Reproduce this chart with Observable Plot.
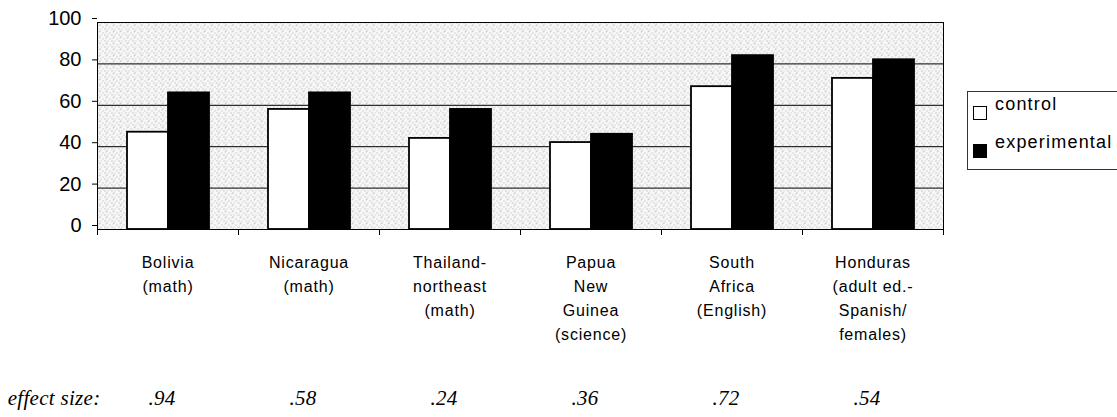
<!DOCTYPE html>
<html><head><meta charset="utf-8">
<script src="https://cdn.jsdelivr.net/npm/d3@7"></script>
<script src="https://cdn.jsdelivr.net/npm/@observablehq/plot@0.6"></script>
<style>
body{margin:0;background:#fff;}
#wrap{position:relative;width:1117px;height:417px;overflow:hidden;font-family:"Liberation Sans",Arial,sans-serif;}
#legend{position:absolute;left:967px;top:91px;width:170px;height:79px;border:1px solid #333;box-sizing:border-box;background:#fff;}
.sw{position:absolute;left:5px;width:14px;height:14px;border:1px solid #000;box-sizing:border-box;}
.lt{position:absolute;left:27px;font-size:18px;line-height:18px;letter-spacing:1.2px;color:#000;white-space:nowrap;}
g[aria-label="fx-axis tick label"] text{letter-spacing:0.8px;}
g[aria-label="text"] text{letter-spacing:0.3px;}
</style></head><body>
<div id="wrap"></div>
<script>
const categories = [
  "Bolivia\n(math)",
  "Nicaragua\n(math)",
  "Thailand-\nnortheast\n(math)",
  "Papua\nNew\nGuinea\n(science)",
  "South\nAfrica\n(English)",
  "Honduras\n(adult ed.-\nSpanish/\nfemales)"
];
const series = ["control", "experimental"];
const controlValues = [47, 58, 44, 42, 69, 73];
const experimentalValues = [66, 66, 58, 46, 84, 82];
const effectSizes = [".94", ".58", ".24", ".36", ".72", ".54"];
const effectLabel = "effect size:";
const yTicks = [0, 20, 40, 60, 80, 100];
const seriesColors = ["white", "black"];

const data = [];
categories.forEach((c, i) => {
  data.push({country: c, series: series[0], value: controlValues[i]});
  data.push({country: c, series: series[1], value: experimentalValues[i]});
});
const effects = categories.map((c, i) => ({country: c, effect: effectSizes[i]}));

const serif = "'Liberation Serif', 'Times New Roman', serif";

const chart = Plot.plot({
  width: 1117,
  height: 417,
  marginLeft: 96,
  marginRight: 173,
  marginTop: 22,
  marginBottom: 188,
  style: {fontFamily: "'Liberation Sans', Arial, sans-serif", color: "black", background: "white"},
  fx: {domain: categories, padding: 0, label: null},
  x: {domain: series, paddingInner: 0, paddingOuter: 0.68, axis: null},
  y: {domain: [0, 100], axis: null},
  color: {domain: series, range: seriesColors},
  marks: [
    Plot.frame({fill: "url(#stipple)", stroke: "none"}),
    Plot.gridY(yTicks, {stroke: "black", strokeOpacity: 1, strokeWidth: 1}),
    Plot.frame({anchor: "left", facetAnchor: "left", insetBottom: -5, stroke: "black"}),
    Plot.frame({anchor: "right", facetAnchor: "right", insetBottom: -5, stroke: "black"}),
    Plot.frame({anchor: "left", insetTop: 207, insetBottom: -5, stroke: "black"}),
    Plot.barY(data, {fx: "country", x: "series", y: "value", fill: "series", stroke: "black", strokeWidth: 1.8}),
    Plot.axisY({ticks: yTicks, tickSize: 5, tickPadding: 11, fontSize: 20, dy: -4, label: null}),
    Plot.axisFx({anchor: "bottom", tickSize: 0, tickPadding: 21, fontSize: 16, lineHeight: 1.5, label: null}),
    Plot.text(effects, {fx: "country", text: "effect", frameAnchor: "bottom", dx: -6, dy: 175, fontFamily: serif, fontStyle: "italic", fontSize: 21}),
    Plot.text([effectLabel], {facetAnchor: "left", frameAnchor: "bottom-left", textAnchor: "end", dx: 3, dy: 175, fontFamily: serif, fontStyle: "italic", fontSize: 21})
  ]
});

// stipple texture for the plot background
const defs = d3.create("svg:defs");
const pat = defs.append("pattern").attr("id", "stipple").attr("patternUnits", "userSpaceOnUse")
  .attr("width", 7).attr("height", 6);
pat.append("rect").attr("width", 7).attr("height", 6).attr("fill", "#f7f7f7");
[[0, 0, "#9a9a9a"], [3, 2, "#b0b0b0"], [5, 4, "#a0a0a0"], [1, 4, "#c4c4c4"], [6, 1, "#c8c8c8"]].forEach(([x, y, c]) =>
  pat.append("rect").attr("x", x).attr("y", y).attr("width", 1).attr("height", 1).attr("fill", c));
chart.insertBefore(defs.node(), chart.firstChild);

const wrap = document.getElementById("wrap");
wrap.appendChild(chart);

const legend = document.createElement("div");
legend.id = "legend";
const rowTops = [14, 52];
series.forEach((s, i) => {
  const sw = document.createElement("div");
  sw.className = "sw";
  sw.style.top = rowTops[i] + "px";
  sw.style.background = seriesColors[i];
  legend.appendChild(sw);
  const t = document.createElement("div");
  t.className = "lt";
  t.style.top = (rowTops[i] - 11) + "px";
  t.textContent = s;
  legend.appendChild(t);
});
wrap.appendChild(legend);
</script>
</body></html>
